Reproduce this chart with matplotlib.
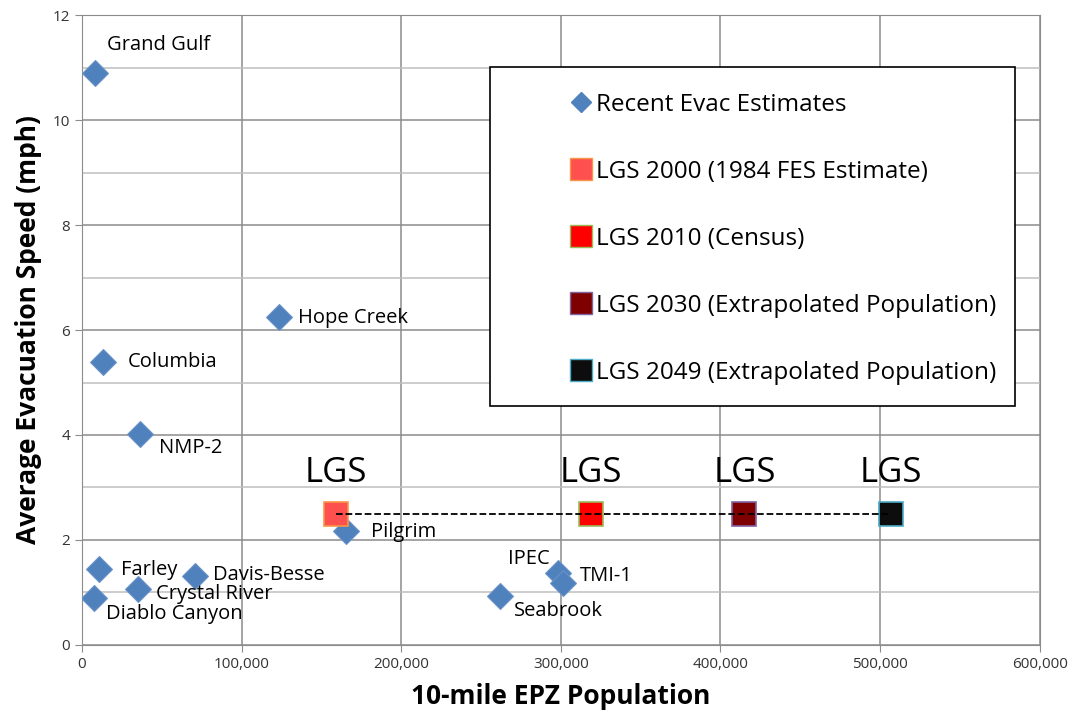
import matplotlib.pyplot as plt
from matplotlib.patches import Rectangle
from matplotlib.lines import Line2D
from matplotlib.ticker import FuncFormatter, MultipleLocator

plt.rcParams['font.family'] = ['Open Sans', 'DejaVu Sans']

# recent evacuation estimates
plants = ['Grand Gulf', 'Columbia', 'NMP-2', 'Hope Creek', 'Farley', 'Diablo Canyon',
          'Crystal River', 'Davis-Besse', 'Pilgrim', 'IPEC', 'TMI-1', 'Seabrook']
pop = [8100, 13100, 36300, 123400, 10600, 7500, 35000, 70800, 165300, 298000, 301200, 261700]
speed = [10.9, 5.4, 4.02, 6.25, 1.45, 0.9, 1.07, 1.31, 2.17, 1.37, 1.18, 0.93]
# label offsets in points (dx, dy)
offsets = [(9, 20), (18, 0), (14, -10), (14, -1), (16, -1), (9, -12),
           (13, -4), (13, 1), (18, -1), (-36, 10), (12, 5), (10, -11)]

# LGS scenarios
lgs_names = ['LGS 2000 (1984 FES Estimate)', 'LGS 2010 (Census)',
             'LGS 2030 (Extrapolated Population)', 'LGS 2049 (Extrapolated Population)']
lgs_pop = [159000, 318700, 415000, 506600]
lgs_speed = [2.5, 2.5, 2.5, 2.5]
lgs_face = ['#FF5050', '#FF0000', '#7F0000', '#0D0D0D']
lgs_edge = ['#F79646', '#9BBB59', '#8064A2', '#4BACC6']

fig = plt.figure(figsize=(10.73, 7.19), dpi=100)
ax = fig.add_axes([0.0764, 0.103, 0.8926, 0.876])

blue = '#4F81BD'
ax.plot(pop, speed, 'D', ms=13, color=blue, mec='#6A93C8', mew=0.8, zorder=3)
for name, x, y, (dx, dy) in zip(plants, pop, speed, offsets):
    ax.annotate(name, (x, y), xytext=(dx, dy), textcoords='offset points',
                fontsize=14.5, va='center', ha='left', color='black', zorder=4)

ax.plot([lgs_pop[0], lgs_pop[-1]], [lgs_speed[0], lgs_speed[-1]], '--', color='black',
        lw=1.3, zorder=4)
for x, y, fc, ec in zip(lgs_pop, lgs_speed, lgs_face, lgs_edge):
    ax.plot(x, y, 's', ms=17, color=fc, mec=ec, mew=1.2, zorder=3)
    ax.annotate('LGS', (x, y), xytext=(0, 17), textcoords='offset points',
                fontsize=25, ha='center', va='bottom')

ax.set_xlim(0, 600000)
ax.set_ylim(0, 12)
ax.xaxis.set_major_locator(MultipleLocator(100000))
ax.yaxis.set_major_locator(MultipleLocator(2))
ax.yaxis.set_minor_locator(MultipleLocator(1))
ax.xaxis.set_major_formatter(FuncFormatter(lambda v, p: f'{int(v):,}'))
ax.grid(True, which='major', color='#8C8C8C', lw=1.1)
ax.grid(True, which='minor', axis='y', color='#BEBEBE', lw=1.1)
ax.set_axisbelow(True)
for s in ax.spines.values():
    s.set_color('#8C8C8C')
ax.tick_params(which='both', labelsize=11, colors='#8C8C8C', labelcolor='#333333', length=5)
ax.tick_params(which='minor', length=0)
ax.set_xlabel('10-mile EPZ Population', fontsize=19, fontweight='bold', labelpad=8)
ax.set_ylabel('Average Evacuation Speed (mph)', fontsize=19, fontweight='bold', labelpad=8)

# legend box
ax.add_patch(Rectangle((0.426, 0.379), 0.548, 0.538, transform=ax.transAxes,
                       facecolor='white', edgecolor='black', lw=1.2, zorder=5))
handles = [Line2D([], [], ls='none', marker='D', ms=10, color=blue, label='Recent Evac Estimates')]
for n, fc, ec in zip(lgs_names, lgs_face, lgs_edge):
    handles.append(Line2D([], [], ls='none', marker='s', ms=16, color=fc, mec=ec, label=n))
leg = ax.legend(handles=handles, loc='upper left', bbox_to_anchor=(0.496, 0.896),
                frameon=False, fontsize=17.5, labelspacing=1.77, handletextpad=0.1,
                handlelength=1.0, borderpad=0)
leg.set_zorder(6)

plt.savefig('out.png')
